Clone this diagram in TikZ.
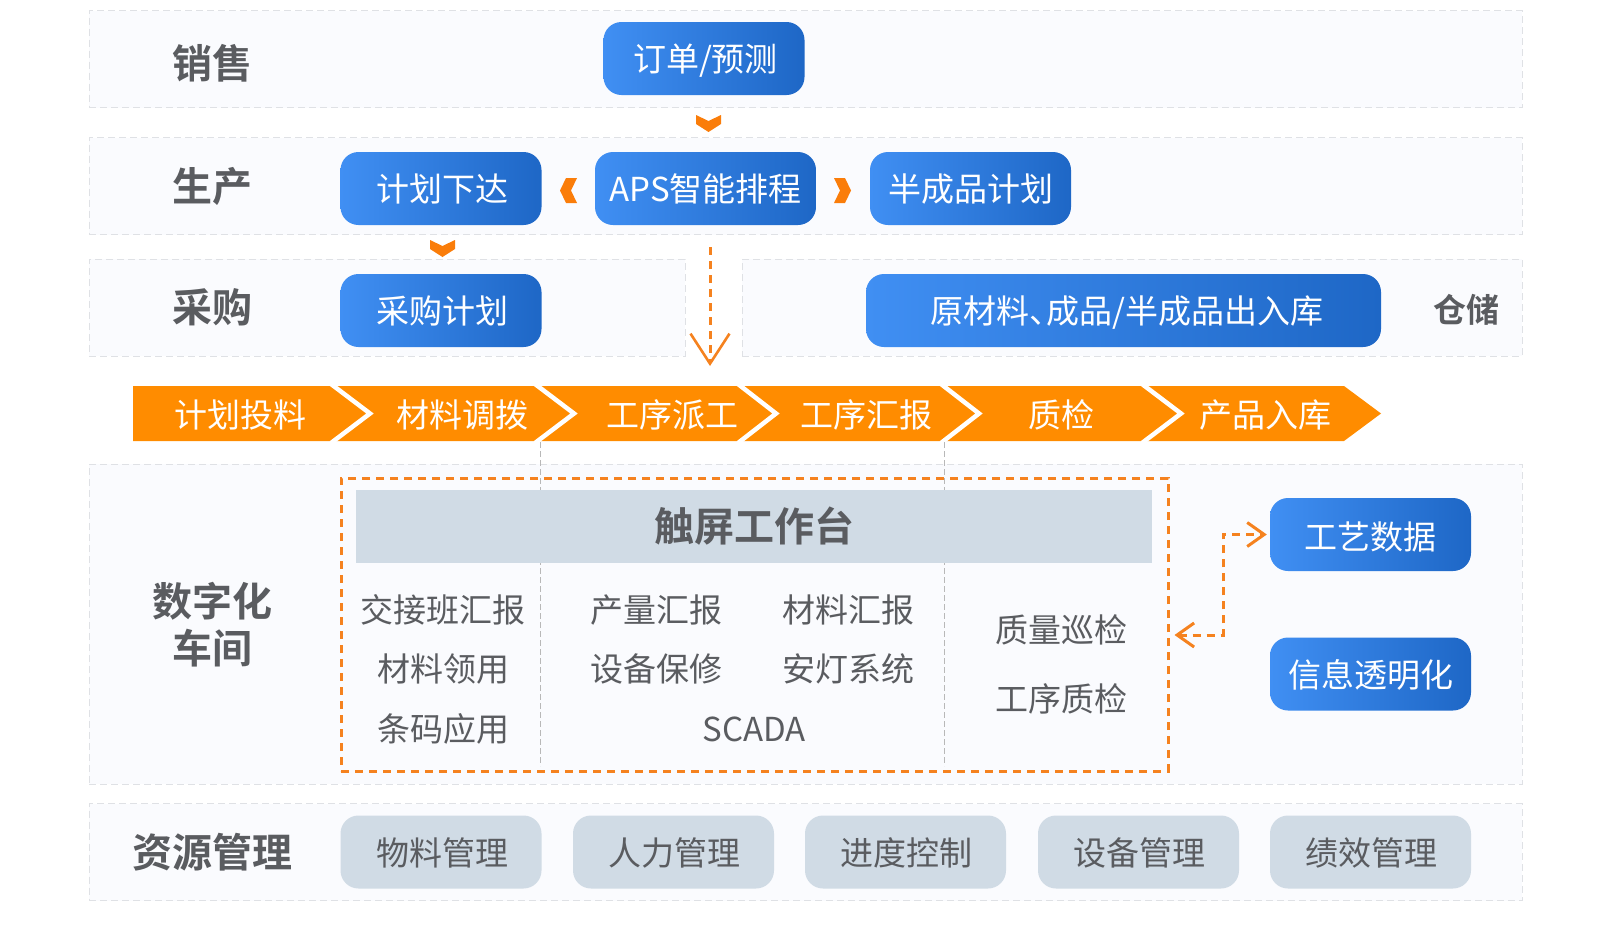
\documentclass[tikz,border=0pt]{standalone}
\usepackage{fontspec}
\setmainfont{Noto Sans CJK SC}[BoldFont={Noto Sans CJK SC Bold}]
\usetikzlibrary{arrows.meta}
\definecolor{boxl}{HTML}{408FF3}
\definecolor{boxr}{HTML}{1E67C6}
\definecolor{greybox}{HTML}{D0DBE5}
\definecolor{bandfill}{HTML}{FAFBFE}
\definecolor{bandline}{HTML}{DFE1E5}
\definecolor{barfill}{HTML}{FF8C00}
\definecolor{dashorange}{HTML}{F5821F}
\definecolor{chevorange}{HTML}{FA7D0A}
\definecolor{inktext}{HTML}{5A5C60}
\tikzset{
  lbl/.style={inner sep=0, font=\fontsize{33}{38}\selectfont, text height=24, text depth=0, text=inktext},
  title/.style={lbl, font=\fontsize{40}{46}\selectfont\bfseries, text height=29, align=center},
  band/.style={draw=bandline, fill=bandfill, line width=1, dash pattern=on 7pt off 4pt, inner sep=0},
  bluebox/.style={lbl, rounded corners=18, minimum height=73, left color=boxl, right color=boxr, text=white, text height=26},
  greyboxn/.style={lbl, rounded corners=18, minimum width=201, minimum height=73, fill=greybox, text height=26},
  barlbl/.style={lbl, text=white},
  sep/.style={draw=white, line width=4.5},
  chev/.style={fill=chevorange},
  divider/.style={draw=black!28, line width=1, dash pattern=on 6pt off 3pt},
  dashline/.style={draw=dashorange, line width=3, dash pattern=on 8pt off 6pt},
}
\begin{document}
\begin{tikzpicture}[x=1pt,y=-1pt]
  \useasboundingbox (0,0) rectangle (1600,924);
  % bands
  \node[band, minimum width=1433, minimum height=97] (salesband) at (805.5,59) {};
  \node[band, minimum width=1433, minimum height=97] (prodband) at (805.5,186) {};
  \node[band, minimum width=596, minimum height=97] (buyband) at (387,307.5) {};
  \node[band, minimum width=780, minimum height=97] (storeband) at (1132,307.5) {};
  \node[band, minimum width=1433, minimum height=320] (shopband) at (805.5,624) {};
  \node[band, minimum width=1433, minimum height=97] (resband) at (805.5,852) {};
  % row titles
  \node[title] (sales) at (212,64) {销售};
  \node[title] (prod) at (212,187) {生产};
  \node[title] (buy) at (212,308) {采购};
  \node[title] (shop) at (212,649) {数字化\\[1pt]车间};
  \node[title] (res) at (212,853) {资源管理};
  \node[lbl, font=\fontsize{33}{38}\selectfont\bfseries] (store) at (1466,310) {仓储};
  % blue boxes
  \node[bluebox, minimum width=201] (order) at (704,58.5) {\kern3pt 订单/预测};
  \node[bluebox, minimum width=201] (release) at (441,188.5) {\kern3pt 计划下达};
  \node[bluebox, minimum width=221] (aps) at (705.5,188.5) {APS智能排程};
  \node[bluebox, minimum width=201] (semi) at (970.5,188.5) {半成品计划};
  \node[bluebox, minimum width=201] (purchase) at (441,310.5) {\kern3pt 采购计划};
  \node[bluebox, minimum width=515] (stock) at (1123.5,310.5) {\kern7pt 原材料、\kern-.5em成品/半成品出入库};
  \node[bluebox, minimum width=201, text height=30] (craft) at (1370.5,534.5) {工艺数据};
  \node[bluebox, minimum width=201] (info) at (1370.5,674) {信息透明化};
  % small chevrons
  \fill[chev] (696,115) -- (708.5,121) -- (721,115) -- (721,124) -- (708.5,132) -- (696,124) -- cycle;
  \fill[chev] (430,240) -- (442.5,246) -- (455,240) -- (455,249) -- (442.5,257) -- (430,249) -- cycle;
  \fill[chev] (577,178) -- (571,190.5) -- (577,203) -- (566,203) -- (560,190.5) -- (566,178) -- cycle;
  \fill[chev] (834,178) -- (840,190.5) -- (834,203) -- (845,203) -- (851,190.5) -- (845,178) -- cycle;
  % process bar
  \fill[barfill] (133,386) -- (1344,386) -- (1381,413.5) -- (1344,441) -- (133,441) -- cycle;
  \draw[sep] (331,384) -- (370,413.5) -- (331,443);
  \draw[sep] (535,384) -- (574,413.5) -- (535,443);
  \draw[sep] (738,384) -- (776,413.5) -- (738,443);
  \draw[sep] (941,384) -- (979,413.5) -- (941,443);
  \draw[sep] (1142,384) -- (1181,413.5) -- (1142,443);
  \node[barlbl] (feed) at (240.5,415) {计划投料};
  \node[barlbl] (alloc) at (462.5,415) {材料调拨};
  \node[barlbl] (dispatch) at (672,415) {工序派工};
  \node[barlbl] (report) at (866,415) {工序汇报};
  \node[barlbl] (check) at (1061,415) {质检};
  \node[barlbl] (store-in) at (1265.5,415) {产品入库};
  % workbench
  \draw[divider] (540,442) -- (540,766);
  \draw[divider] (944,442) -- (944,766);
  \node[dashline, minimum width=827, minimum height=293] (bench) at (754.5,624.5) {};
  \node[lbl, fill=greybox, minimum width=796, minimum height=73, font=\fontsize{40}{46}\selectfont\bfseries, text height=29] (touch) at (754,526.5) {触屏工作台};
  \node[lbl] (shift) at (443,610) {交接班汇报};
  \node[lbl] (matuse) at (443,669) {材料领用};
  \node[lbl] (barcode) at (443,729) {条码应用};
  \node[lbl] (output) at (656.5,610) {产量汇报};
  \node[lbl] (matrep) at (848,610) {材料汇报};
  \node[lbl] (repair) at (656.5,669) {设备保修};
  \node[lbl] (andon) at (848,669) {安灯系统};
  \node[lbl] (scada) at (754,729) {SCADA};
  \node[lbl] (patrol) at (1061,630) {质量巡检};
  \node[lbl] (stepchk) at (1061,699) {工序质检};
  % resources
  \node[greyboxn] (mat) at (441,852) {\kern3pt 物料管理};
  \node[greyboxn] (staff) at (673.5,852) {\kern2pt 人力管理};
  \node[greyboxn] (prog) at (905.5,852) {\kern2pt 进度控制};
  \node[greyboxn] (equip) at (1138.5,852) {\kern1pt 设备管理};
  \node[greyboxn] (perf) at (1370.5,852) {\kern1pt 绩效管理};
  % connectors
  \coordinate (aimbar) at (710,366);
  \draw[dashline, -{Straight Barb[length=30,width=39,line width=2.6]}] ([yshift=-22]aps.south -| aimbar) -- (aimbar);
  \coordinate (bend) at (1223,635);
  \draw[dashline, {Straight Barb[length=17,width=24,line width=3]}-{Straight Barb[length=17,width=24,line width=3]}]
    (bench.east |- bend) ++(5,0) -- (bend) |- ([xshift=-3]craft.west);
\end{tikzpicture}
\end{document}
